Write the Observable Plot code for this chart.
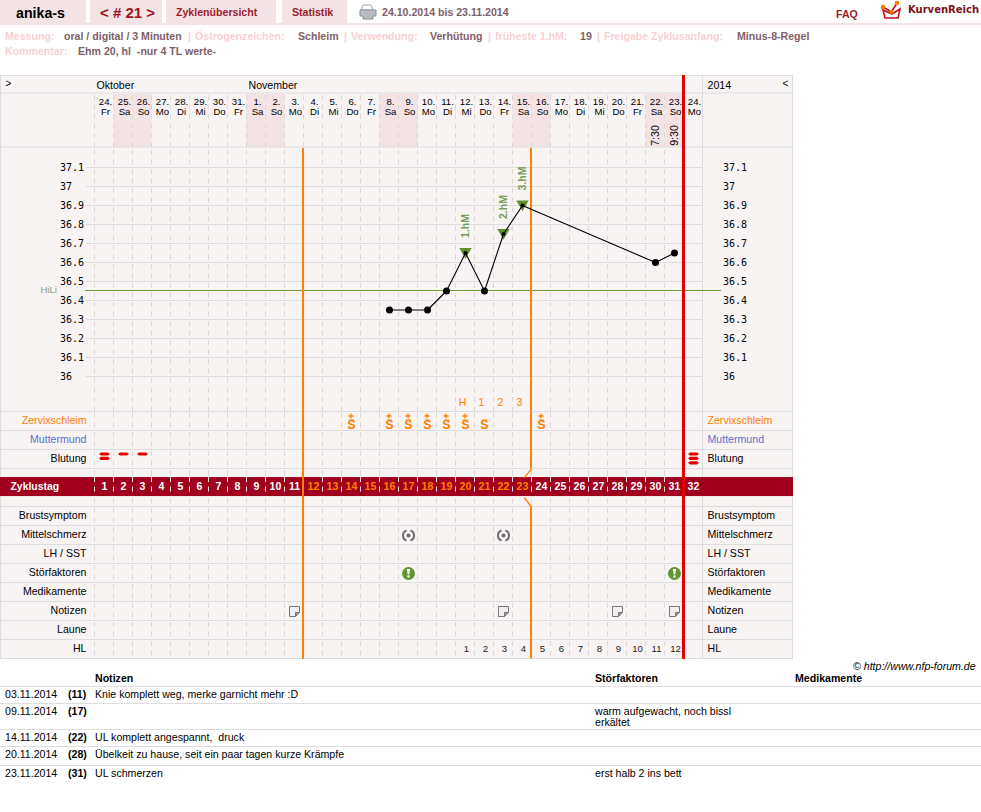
<!DOCTYPE html>
<html><head><meta charset="utf-8">
<script src="https://cdn.jsdelivr.net/npm/d3@7"></script>
<script src="https://cdn.jsdelivr.net/npm/@observablehq/plot@0.6"></script>
<style>
html,body{margin:0;padding:0;background:#fff}
#page{position:relative;width:981px;height:812px;overflow:hidden;font-family:"Liberation Sans",Arial,sans-serif;font-size:10.6px;color:#000}
.t{position:absolute;white-space:pre;line-height:14px}
.tab{position:absolute;top:0;height:23px;background:#f3e3e5}
.b{font-weight:bold}
.lbl{color:#f8d0d4;font-weight:bold}
.val{color:#806068;font-weight:bold}
.hr{position:absolute;left:0;width:981px;height:1px;background:#ddd}
svg.plot,#page svg{position:absolute;left:0}
</style></head><body>
<div id="page"></div>
<script>
// ---------- data ----------
const cycleDays = d3.range(1, 33);
const dateLabels = ["24.","25.","26.","27.","28.","29.","30.","31.","1.","2.","3.","4.","5.","6.","7.","8.","9.","10.","11.","12.","13.","14.","15.","16.","17.","18.","19.","20.","21.","22.","23.","24."];
const weekdayLabels = ["Fr","Sa","So","Mo","Di","Mi","Do","Fr","Sa","So","Mo","Di","Mi","Do","Fr","Sa","So","Mo","Di","Mi","Do","Fr","Sa","So","Mo","Di","Mi","Do","Fr","Sa","So","Mo"];
const weekendDays = [2,3,9,10,16,17,23,24,30,31];
const months = [["Oktober",1],["November",9]];
const timeDays = [30,31];
const timeLabels = ["7:30","9:30"];
const tempTicks = ["37.1","37","36.9","36.8","36.7","36.6","36.5","36.4","36.3","36.2","36.1","36"];
const coverline = 36.45;
const tempDays = [16,17,18,19,20,21,22,23,30,31];
const tempValues = [36.35,36.35,36.35,36.45,36.65,36.45,36.75,36.9,36.6,36.65];
const peakDays = [20,22,23];
const peakTemps = [36.65,36.75,36.9];
const peakLabels = ["1.hM","2.hM","3.hM"];
const orangeDay1 = 11.5, orangeDay2 = 23.5, redDay = 31.5;
const markDays = [20,21,22,23];
const markLabels = ["H","1","2","3"];
const mucusDays = [14,16,17,18,19,20,21,24];
const mucusPlus = [14,16,17,18,19,20,24];
const bleedOne = [2,3], bleedTwo = [1], bleedThree = [32];
const painDays = [17,22];
const disturbDays = [17,31];
const noteDays = [11,22,28,31];
const hlDays = [20,21,22,23,24,25,26,27,28,29,30,31];
const upperRows = [["Zervixschleim","#ff8000"],["Muttermund","#5a6fd0"],["Blutung","#000"]];
const lowerRows = ["Brustsymptom","Mittelschmerz","LH / SST","Störfaktoren","Medikamente","Notizen","Laune","HL"];
const tableDates = ["03.11.2014","09.11.2014","14.11.2014","20.11.2014","23.11.2014"];
const tableCycle = ["(11)","(17)","(22)","(28)","(31)"];
const tableNotes = ["Knie komplett weg, merke garnicht mehr :D","","UL komplett angespannt,  druck","Übelkeit zu hause, seit ein paar tagen kurze Krämpfe","UL schmerzen"];
const tableDist = ["","warm aufgewacht, noch bissl\nerkältet","","","erst halb 2 ins bett"];

// ---------- page furniture ----------
const page = document.getElementById("page");
function el(cls, css, text){const d=document.createElement("div");d.className=cls;d.style.cssText=css;if(text!==undefined)d.textContent=text;page.appendChild(d);return d;}
function txt(s,x,y,cls,css=""){return el("t "+(cls||""),`left:${x}px;top:${y-7}px;${css}`,s);}
[[0,86],[90,72],[166,110],[282,65]].forEach(([l,w])=>el("tab",`left:${l}px;width:${w}px`));
el("tab","left:0;top:23px;width:981px;height:2px");
txt("anika-s",16,13,"b","font-size:14.2px;color:#000");
txt("< # 21 >",100,13,"b","font-size:15px;color:#a01020");
txt("Zyklenübersicht",176,12,"b","color:#a01c2c");
txt("Statistik",292,12,"b","color:#a01c2c");
txt("24.10.2014 bis 23.11.2014",382,12,"val");
txt("FAQ",836,14,"b","color:#a01c2c");
txt("KurvenReich",908,10,"b",'font-family:"DejaVu Sans";font-size:10px;color:#80101c');
[["Messung:",5,"lbl"],["oral / digital / 3 Minuten",64,"val"],["|",188,"lbl"],["Östrogenzeichen:",195,"lbl"],["Schleim",298,"val"],["|",344,"lbl"],["Verwendung:",351,"lbl"],["Verhütung",430,"val"],["|",488,"lbl"],["früheste 1.hM:",495,"lbl"],["19",580,"val"],["|",597,"lbl"],["Freigabe Zyklusanfang:",604,"lbl"],["Minus-8-Regel",737,"val"]].forEach(([s,x,c])=>txt(s,x,36,c));
txt("Kommentar:",5,51,"lbl");
txt("Ehm 20, hl  -nur 4 TL werte-",78,51,"val");

const icons=document.createElement("div");
icons.innerHTML=`<svg width="981" height="24" style="top:0" xmlns="http://www.w3.org/2000/svg">
<path d="M363 5h8l2 5h-12z" fill="#fff" stroke="#9aa" stroke-width="1"/>
<path d="M360 10h16v6h-3v3h-10v-3h-3z" fill="#b8bcc0" stroke="#8a9094" stroke-width="1"/>
<path d="M883 10l2 8h13l2-9-8 5z" fill="none" stroke="#c01020" stroke-width="1.6"/>
<path d="M883 7l8.500 5 5.500-9" fill="none" stroke="#c01020" stroke-width="1.6"/>
<circle cx="883" cy="7" r="2.300" fill="#f08000"/><circle cx="897" cy="3" r="2.300" fill="#f08000"/><circle cx="891.500" cy="12" r="2" fill="#f08000"/>
</svg>`;
page.appendChild(icons);

el("","position:absolute;left:0;top:75px;width:793px;height:584px;box-sizing:border-box;background:#f8f4f4;border:1px solid #ddd;");

// ---------- Plot ----------
const pxDay = px => 1 + (px - 104) / 19;
const xScale = {type:"linear", domain:[pxDay(0), pxDay(793)], range:[0,793], axis:null};
const boundaries = cycleDays.map(d => d - 0.5);
const base = {width:793, marginLeft:0, marginRight:0, marginTop:0, marginBottom:0,
  style:{background:"transparent", fontFamily:'"Liberation Sans",Arial,sans-serif', overflow:"visible"}};
const GRID="#dddddd", DASH="#ddd8d6", ORANGE="#ff8000", RED="#e30000";
const dashed = {stroke:DASH, strokeDasharray:"5 4.5", dx:-0.5};
const FS = 10.6;

// header
const head = Plot.plot({...base, height:73, x:xScale, y:{domain:[0,73],range:[0,73],axis:null},
  marks:[
    Plot.rect(weekendDays,{x1:d=>d-0.5,x2:d=>d+0.5,y1:19,y2:72,fill:"#f3e3e5"}),
    Plot.ruleY([18,72],{stroke:GRID,dy:-0.5,strokeWidth:1}),
    Plot.ruleX(boundaries,{...dashed,y1:19,y2:72,strokeDashoffset:-1}),
    Plot.ruleX([32.5],{stroke:GRID,dx:-0.5}),
    Plot.ruleX([redDay],{stroke:RED,strokeWidth:3,dx:-0.5}),
    Plot.text(months,{x:d=>d[1],text:d=>d[0],frameAnchor:"top",lineAnchor:"middle",dy:10,dx:-8,textAnchor:"start",fontSize:FS,fill:"#000"}),
    Plot.text(["2014"],{frameAnchor:"top-left",lineAnchor:"middle",dx:707,dy:10,textAnchor:"start",fontSize:FS,fill:"#000"}),
    Plot.text([">"],{frameAnchor:"top-left",lineAnchor:"middle",dx:5,dy:8,textAnchor:"start",fontSize:10,fill:"#000"}),
    Plot.text(["<"],{frameAnchor:"top-left",lineAnchor:"middle",dx:782,dy:8,textAnchor:"start",fontSize:10,fill:"#000"}),
    Plot.text(cycleDays,{x:d=>d,text:(d,i)=>dateLabels[i],frameAnchor:"top",lineAnchor:"middle",dy:26,dx:1,fontSize:9.6,fill:"#000"}),
    Plot.text(cycleDays,{x:d=>d,text:(d,i)=>weekdayLabels[i],frameAnchor:"top",lineAnchor:"middle",dy:36,dx:1,fontSize:9.6,fill:"#000"}),
    Plot.text(timeDays,{x:d=>d,text:(d,i)=>timeLabels[i],frameAnchor:"top",lineAnchor:"middle",dy:60,dx:0.5,rotate:-90,fontSize:FS,fill:"#000"})
  ]});

// temperature
const tempData = tempDays.map((d,i)=>({d,t:tempValues[i]}));
const peakData = peakDays.map((d,i)=>({d,t:peakTemps[i],label:peakLabels[i]}));
const plainData = tempData.filter(p=>!peakDays.includes(p.d));
const temp = Plot.plot({...base, height:263, x:xScale, y:{domain:[37.1,36],range:[19,228],axis:null},
  marks:[
    Plot.ruleX(boundaries,{...dashed,strokeDashoffset:-2}),
    Plot.ruleX([32.5],{stroke:GRID,dx:-0.5}),
    Plot.ruleY(tempTicks.map(Number),{x1:pxDay(86),x2:32.5,stroke:GRID,strokeWidth:1}),
    Plot.ruleY([coverline],{x1:pxDay(85),x2:pxDay(721),stroke:"#6a9c30",strokeWidth:1,dy:-0.5}),
    Plot.text(["HiLi"],{y:()=>coverline,frameAnchor:"left",dx:40,dy:-1,textAnchor:"start",fontSize:9.5,fill:"#8f9f78"}),
    Plot.ruleX([orangeDay1,orangeDay2],{stroke:ORANGE,strokeWidth:2,dx:-1}),
    Plot.ruleX([redDay],{stroke:RED,strokeWidth:3,dx:-0.5}),
    Plot.text(tempTicks,{y:d=>+d,text:d=>d,frameAnchor:"left",dx:59.5,textAnchor:"start",fontSize:10,fontFamily:'"DejaVu Sans Mono"',fill:"#000"}),
    Plot.text(tempTicks,{y:d=>+d,text:d=>d,frameAnchor:"left",dx:722.5,textAnchor:"start",fontSize:10,fontFamily:'"DejaVu Sans Mono"',fill:"#000"}),
    Plot.dot(peakData,{x:"d",y:"t",symbol:"triangle",rotate:180,r:4.6,fill:"#5f8f2e",stroke:"none",dy:-1.5}),
    Plot.line(tempData,{x:"d",y:"t",stroke:"#000",strokeWidth:1.1,curve:"linear"}),
    Plot.dot(plainData,{x:"d",y:"t",r:3.5,fill:"#000",stroke:"none"}),
    Plot.dot(peakData,{x:"d",y:"t",r:2,fill:"#000",stroke:"none"}),
    Plot.text(peakData,{x:"d",y:"t",text:"label",rotate:-90,dx:0.5,dy:-27,fontSize:FS,fontWeight:"bold",fill:"#78a058"}),
    Plot.text(markDays,{x:d=>d,text:(d,i)=>markLabels[i],frameAnchor:"bottom",lineAnchor:"middle",dy:-9,dx:-3,fontSize:FS,fill:ORANGE})
  ]});

// custom glyphs
const lozenges = n => ({draw(c){ for(let i=0;i<n;i++){ const y=-5.5+4.4*i; c.moveTo(-5.5,y); c.lineTo(-3.5,y-1.6); c.lineTo(3.5,y-1.6); c.lineTo(5.5,y); c.lineTo(3.5,y+1.6); c.lineTo(-3.5,y+1.6); c.closePath(); } }});
const ring = {draw(c){ const r=5.5; c.moveTo(r*Math.cos(-1.2),r*Math.sin(-1.2)); c.arc(0,0,r,-1.2,1.2); c.moveTo(r*Math.cos(Math.PI-1.2),r*Math.sin(Math.PI-1.2)); c.arc(0,0,r,Math.PI-1.2,Math.PI+1.2); }};
const bang = {draw(c){ c.moveTo(-1.7,-4.5); c.lineTo(1.7,-4.5); c.lineTo(0.8,1); c.lineTo(-0.8,1); c.closePath(); c.moveTo(1.3,3); c.arc(0,3,1.3,0,Math.PI*2); }};
const page1 = {draw(c){ c.moveTo(-5,-5); c.lineTo(5,-5); c.lineTo(5,1); c.lineTo(1,5); c.lineTo(-5,5); c.closePath(); }};
const fold = {draw(c){ c.moveTo(1,5); c.lineTo(1,1); c.lineTo(5,1); c.closePath(); }};
const bar = {draw(c){ c.moveTo(-2.6,-5); c.lineTo(2.6,-5); c.lineTo(2.6,-4); c.lineTo(-2.6,-4); c.closePath(); }};

// rows
const rowCentre = {zerv:0.5, blut:2.5, band:3.95};
const lowerY = lowerRows.map((r,i)=>5.5+i);
const lineRows = [0,1,2,3,5,6,7,8,9,10,11,12,13];
const rows = Plot.plot({...base, height:248, x:xScale, y:{domain:[0,13],range:[0.5,247.5],axis:null},
  marks:[
    Plot.ruleY(lineRows,{stroke:GRID,dy:-0.5}),
    Plot.ruleX(boundaries,{...dashed,strokeDashoffset:-2}),
    Plot.ruleX([32.5],{y1:0,y2:3.45,stroke:GRID,dx:-0.5}),
    Plot.ruleX([32.5],{y1:4.45,y2:13,stroke:GRID,dx:-0.5}),
    Plot.rect([0],{y1:3.45,y2:4.45,fill:"#a0001e"}),
    Plot.ruleX(boundaries,{y1:3.45,y2:4.45,stroke:"#f4e4e4",strokeDasharray:"5 4.5",dx:-0.5}),
    Plot.ruleX([orangeDay1],{stroke:ORANGE,strokeWidth:2,dx:-1}),
    Plot.ruleX([orangeDay2],{y1:0,y2:3,stroke:ORANGE,strokeWidth:2,dx:-1}),
    Plot.ruleX([orangeDay2],{y1:5,y2:13,stroke:ORANGE,strokeWidth:2,dx:-1}),
    Plot.link([[3,3.45],[5,4.5]],{x1:orangeDay2,y1:d=>d[0],x2:orangeDay2-0.38,y2:d=>d[1],stroke:ORANGE,strokeWidth:1.3,dx:-0.5}),
    Plot.ruleX([redDay],{stroke:RED,strokeWidth:3,dx:-0.5}),
    // labels
    ...upperRows.flatMap(([s,c],i)=>[
      Plot.text([s],{y:()=>i+0.5,frameAnchor:"left",dx:86,dy:-1,textAnchor:"end",fontSize:FS,fill:c}),
      Plot.text([s],{y:()=>i+0.5,frameAnchor:"left",dx:707,dy:-1,textAnchor:"start",fontSize:FS,fill:c})]),
    Plot.text(lowerRows,{y:(d,i)=>lowerY[i],text:d=>d,frameAnchor:"left",dx:86,dy:-1,textAnchor:"end",fontSize:FS,fill:"#000"}),
    Plot.text(lowerRows,{y:(d,i)=>lowerY[i],text:d=>d,frameAnchor:"left",dx:707,dy:-1,textAnchor:"start",fontSize:FS,fill:"#000"}),
    Plot.text(["Zyklustag"],{y:()=>rowCentre.band,frameAnchor:"left",dx:10,textAnchor:"start",fontSize:10.4,fontWeight:"bold",fill:"#fff"}),
    Plot.text(cycleDays,{x:d=>d,y:()=>rowCentre.band,text:d=>String(d),fontSize:FS,fontWeight:"bold",
      fill:d=>(d>=12&&d<=23)?ORANGE:"#fff"}),
    // symptoms
    Plot.text(mucusDays,{x:d=>d,y:()=>rowCentre.zerv,text:()=>"S",dy:3,fontSize:12.5,fill:ORANGE,fontWeight:"bold"}),
    Plot.dot(mucusDays,{x:d=>d,y:()=>rowCentre.zerv,symbol:bar,fill:ORANGE,stroke:"none",dy:3}),
    Plot.dot(mucusPlus,{x:d=>d,y:()=>rowCentre.zerv,symbol:"plus",r:1.8,stroke:ORANGE,strokeWidth:1.3,dx:-0.5,dy:-5.5}),
    Plot.dot(bleedOne,{x:d=>d,y:()=>rowCentre.blut,symbol:lozenges(1),fill:RED,stroke:"none"}),
    Plot.dot(bleedTwo,{x:d=>d,y:()=>rowCentre.blut,symbol:lozenges(2),fill:RED,stroke:"none"}),
    Plot.dot(bleedThree,{x:d=>d,y:()=>rowCentre.blut,symbol:lozenges(3),fill:RED,stroke:"none"}),
    Plot.dot(painDays,{x:d=>d,y:()=>6.5,symbol:ring,fill:"none",stroke:"#6a6a6a",strokeWidth:2}),
    Plot.dot(painDays,{x:d=>d,y:()=>6.5,r:2,fill:"#6a6a6a",stroke:"none"}),
    Plot.dot(disturbDays,{x:d=>d,y:()=>8.5,r:6.5,fill:"#5f9632",stroke:"none"}),
    Plot.dot(disturbDays,{x:d=>d,y:()=>8.5,symbol:bang,fill:"#fff",stroke:"none"}),
    Plot.dot(noteDays,{x:d=>d,y:()=>10.5,symbol:page1,fill:"#f0eeee",stroke:"#777",strokeWidth:1}),
    Plot.dot(noteDays,{x:d=>d,y:()=>10.5,symbol:fold,fill:"#999",stroke:"#777",strokeWidth:1}),
    Plot.text(hlDays,{x:d=>d,y:()=>12.5,text:(d,i)=>String(i+1),dx:1,dy:-1,fontSize:9.6,fill:"#222"})
  ]});

head.style.top="75px"; temp.style.top="148px"; rows.style.top="411px";
[head,temp,rows].forEach(s=>{s.style.position="absolute";s.style.left="0";page.appendChild(s);});

// ---------- notes table ----------
txt("© http://www.nfp-forum.de",853,666,"","font-style:italic");
txt("Notizen",95,678,"b"); txt("Störfaktoren",595,678,"b"); txt("Medikamente",795,678,"b");
[686,703,729,746,765].forEach(y=>el("hr",`top:${y}px`));
const rowText=[694,711,737,754,773];
tableDates.forEach((s,i)=>{
  const y=rowText[i];
  txt(s,5,y); txt(tableCycle[i],68,y,"b"); txt(tableNotes[i],95,y);
  if(tableDist[i]) txt(tableDist[i],595,y,"","line-height:11px;margin-top:1.5px");
});
</script>
</body></html>
